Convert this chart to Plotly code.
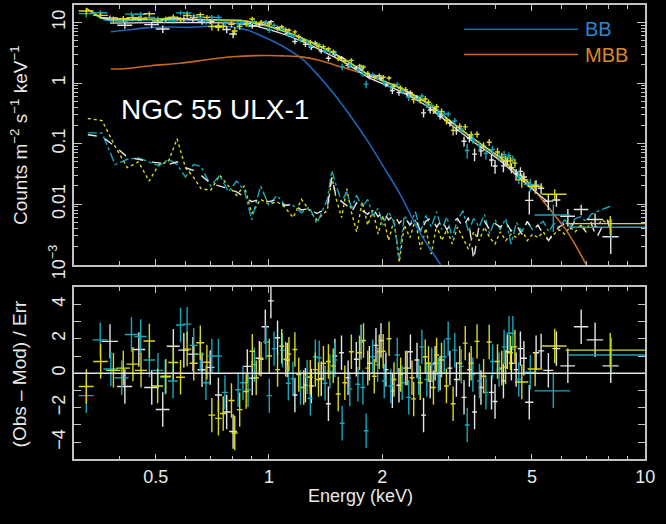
import numpy as np
import plotly.graph_objects as go

# ---------------------------------------------------------------------------
# Binned spectra: bin centre (keV), half bin width (keV), residual (Obs-Mod)/Err
# ---------------------------------------------------------------------------
PN_E = [0.378, 0.414, 0.451, 0.488, 0.522, 0.557, 0.594, 0.628, 0.664, 0.698, 0.734,
        0.772, 0.803, 0.876, 0.903, 0.943, 0.978,
        1.012, 1.054, 1.119, 1.172, 1.25, 1.296, 1.377, 1.439, 1.497, 1.559, 1.623, 1.707,
        1.759, 1.849, 1.925, 1.985, 2.046, 2.128, 2.216, 2.329, 2.377, 2.475, 2.576, 2.683, 2.765, 2.85,
        3.027, 3.15, 3.30, 3.41, 3.52, 3.66, 3.905, 3.99, 4.2,
        4.30, 4.41, 4.54, 4.66, 4.76, 4.92, 5.13, 5.29, 5.53, 5.81, 6.23, 6.76, 7.36, 8.10]
PN_DE = [0.019, 0.019, 0.018, 0.022, 0.022, 0.022, 0.02, 0.02, 0.018, 0.018, 0.016,
         0.019, 0.019, 0.021, 0.021, 0.022, 0.022,
         0.018, 0.017, 0.018, 0.018, 0.019, 0.02, 0.021, 0.022, 0.022, 0.023, 0.024, 0.026,
         0.026, 0.028, 0.029, 0.03, 0.031, 0.032, 0.033, 0.035, 0.036, 0.037, 0.039, 0.04, 0.041, 0.043,
         0.045, 0.047, 0.05, 0.051, 0.053, 0.055, 0.059, 0.06, 0.063,
         0.065, 0.066, 0.07, 0.08, 0.09, 0.125, 0.10, 0.10, 0.17, 0.14, 0.28, 0.3, 0.37, 0.4]
PN_RES = [1.85, -0.77, 1.38, -0.83, -2.1, 1.57, 1.34, 1.11, 0.2, 0.34, -1.26,
          -2.25, -3.38, 0.4, -0.28, 0.87, 2.7,
          4.2, 2.06, 0.77, -1.26, -0.7, -0.74, -0.32, -1.77, 1.0, 1.19, -0.26, 0.81,
          1.81, 0.58, 1.62, 1.9, 0.21, -1.02, -0.7, 0.3, 1.25, 0.77, -2.43, -0.45, 0.58, 0.02,
          0.3, -0.36, -1.4, 0.21, -2.25, -0.83, -1.11, -1.64, -0.45,
          1.25, 0.58, 0.21, 1.43, 0.87, -1.68, 1.19, 1.3, 0.17, 1.43, 0.43, 2.7, 1.94, 0.43]

MOS1_E = [0.327, 0.357, 0.386, 0.410, 0.435, 0.457, 0.481, 0.506, 0.532, 0.557, 0.582, 0.606,
          0.631, 0.657, 0.684, 0.705, 0.734,
          0.756, 0.795, 0.811, 0.836, 0.870, 0.903, 0.925, 0.953,
          1.002, 1.054, 1.081, 1.108, 1.130, 1.172, 1.20, 1.237, 1.288, 1.328, 1.354, 1.396,
          1.439, 1.482, 1.528, 1.591, 1.656, 1.741,
          1.784, 1.831, 1.905, 1.965, 2.012, 2.086, 2.15, 2.239, 2.307, 2.40, 2.425, 2.524,
          2.603, 2.655, 2.737, 2.79, 2.875, 2.963,
          3.087, 3.214, 3.325, 3.447, 3.574, 3.72, 3.85, 4.05, 4.157,
          4.256, 4.386, 4.506, 4.70, 5.10, 5.75, 8.075]
MOS1_DE = [0.015, 0.016, 0.017, 0.017, 0.017, 0.017, 0.017, 0.017, 0.017, 0.017, 0.016, 0.016,
           0.016, 0.016, 0.015, 0.015, 0.015,
           0.015, 0.015, 0.015, 0.015, 0.015, 0.015, 0.015, 0.015,
           0.016, 0.016, 0.016, 0.016, 0.017, 0.017, 0.018, 0.018, 0.019, 0.02, 0.02, 0.021,
           0.021, 0.022, 0.023, 0.024, 0.025, 0.026,
           0.026, 0.027, 0.028, 0.029, 0.03, 0.031, 0.032, 0.033, 0.034, 0.036, 0.036, 0.038,
           0.039, 0.04, 0.041, 0.042, 0.043, 0.044,
           0.046, 0.048, 0.05, 0.052, 0.054, 0.056, 0.058, 0.061, 0.062,
           0.064, 0.066, 0.068, 0.19, 0.23, 0.43, 1.925]
MOS1_RES = [-0.77, 0.68, 0.17, 0.3, 0.53, 0.17, 1.87, -0.74, -0.17, 0.62, -0.23, 1.4,
            0.58, 1.77, 0.64, -2.43, -2.62,
            -2.34, -1.58, -3.47, -2.11, -1.06, 1.28, -0.26, 0.81,
            1.0, 0.21, 1.57, 0.81, 1.11, 1.38, -0.08, -0.83, -0.23, 0.21, -0.36, 0.58,
            0.68, 0.43, -1.2, -0.55, 1.25, 1.19,
            1.9, 0.3, -0.17, 1.25, 1.28, 2.0, -0.36, -0.08, 0.3, -0.26, -1.49, -0.55,
            0.96, 0.58, -0.83, 1.06, 0.77, -0.74,
            -1.77, 0.58, 1.75, 0.58, 1.85, -0.17, 1.81, 0.68, 0.3,
            0.36, 1.19, 1.53, -0.51, 0.25, 1.58, 1.34]

MOS2_E = [0.327, 0.356, 0.380, 0.406, 0.431, 0.456, 0.481, 0.507, 0.530, 0.556, 0.582, 0.606,
          0.631, 0.657, 0.680, 0.705, 0.734,
          0.764, 0.828, 0.853, 0.880, 0.915, 0.982,
          1.002, 1.032, 1.086, 1.126, 1.158, 1.213, 1.263, 1.288, 1.328, 1.36, 1.41, 1.452,
          1.497, 1.565, 1.64, 1.724, 1.759,
          1.777, 1.813, 1.887, 1.945, 2.025, 2.108, 2.193, 2.26, 2.353, 2.5, 2.55, 2.628,
          2.708, 2.82, 2.924, 2.995,
          3.119, 3.245, 3.365, 3.483, 3.626, 3.773, 3.929, 4.09, 4.217,
          4.345, 4.45, 4.614, 4.95, 5.70, 8.135]
MOS2_DE = [0.015, 0.016, 0.017, 0.017, 0.017, 0.017, 0.017, 0.017, 0.017, 0.017, 0.016, 0.016,
           0.016, 0.016, 0.015, 0.015, 0.015,
           0.015, 0.015, 0.015, 0.015, 0.015, 0.016,
           0.016, 0.016, 0.016, 0.017, 0.017, 0.018, 0.019, 0.019, 0.02, 0.02, 0.021, 0.022,
           0.022, 0.023, 0.025, 0.026, 0.026,
           0.027, 0.027, 0.028, 0.029, 0.03, 0.032, 0.033, 0.034, 0.035, 0.037, 0.038, 0.039,
           0.04, 0.042, 0.044, 0.045,
           0.047, 0.049, 0.05, 0.052, 0.054, 0.057, 0.059, 0.061, 0.063,
           0.065, 0.067, 0.07, 0.19, 0.62, 1.865]
MOS2_RES = [-1.3, 1.94, 0.25, -0.26, 2.25, 2.13, 0.77, 0.17, -0.23, -0.45, 2.8, 2.85,
            1.62, 1.1, -0.55, 1.0, 1.0,
            -1.11, -0.96, -0.55, -0.96, 0.49, 1.81,
            -1.3, 1.43, 1.34, -0.58, -0.32, -0.83, -0.21, -1.45, 0.96, 0.9, -0.58, 0.11,
            0.77, -2.9, -0.92, -0.64, 1.81,
            -0.83, -3.34, 0.96, 0.49, -0.45, -0.74, 1.06, -0.55, -1.4, -0.26, 1.53, -0.36,
            0.49, -0.08, 0.96, 2.0,
            1.34, 0.4, -3.0, -0.08, -0.45, -1.11, 0.68, 0.21, 1.53,
            2.32, 2.32, -0.36, 0.06, -1.02, 1.06]

# relative cross-normalisation of each camera
NORM_PN, NORM_MOS1, NORM_MOS2 = 0.88, 1.0, 0.97

# folded total model (counts m^-2 s^-1 keV^-1)
MODEL_E = [0.30, 0.33, 0.35, 0.38, 0.42, 0.48, 0.55, 0.62, 0.70, 0.78, 0.85, 0.92, 1.0,
           1.1, 1.225, 1.35, 1.5, 1.65, 1.83, 2.0, 2.24, 2.5, 2.73, 3.0, 3.34, 3.7, 4.09,
           4.5, 5.0, 5.5, 6.1, 6.8, 7.5, 8.5, 10.0]
MODEL_TOT = [17.5, 17.0, 12.5, 11.0, 11.2, 11.5, 11.5, 11.3, 11.4, 11.2, 10.8, 10.0, 8.7,
             7.2, 5.6, 4.2, 3.05, 2.15, 1.40, 1.12, 0.83, 0.58, 0.40, 0.25, 0.147, 0.095, 0.062,
             0.036, 0.0204, 0.0125, 0.0068, 0.0042, 0.0030, 0.0024, 0.0020]
MODEL_LINE_EMAX = 5.6   # folded model is overplotted up to this energy

# fractional 1-sigma uncertainty of the binned counts
REL_E = [0.3, 0.5, 0.8, 1.0, 1.5, 2.0, 3.0, 4.0, 5.0, 6.0, 7.0, 8.0, 10.0]
REL_ERR = [0.12, 0.11, 0.10, 0.09, 0.09, 0.10, 0.13, 0.18, 0.25, 0.35, 0.45, 0.6, 0.8]

# model components
BB_E = [0.38, 0.42, 0.48, 0.55, 0.62, 0.68, 0.75, 0.80, 0.88, 0.98, 1.1, 1.225, 1.35, 1.5,
        1.65, 1.83, 2.0, 2.24, 2.5, 2.86]
BB_VAL = [7.0, 7.5, 8.2, 8.4, 8.3, 8.6, 8.8, 8.4, 7.4, 5.6, 3.9, 2.5, 1.35, 0.62,
          0.28, 0.11, 0.045, 0.014, 0.0037, 0.001]
MBB_E = [0.38, 0.42, 0.486, 0.58, 0.684, 0.80, 0.98, 1.1, 1.22, 1.35, 1.5, 1.65, 1.83, 2.0,
         2.24, 2.5, 2.73, 3.0, 3.34, 3.7, 4.09, 4.5, 5.0, 5.5, 6.1, 6.5, 6.97]
MBB_VAL = [1.70, 1.74, 1.93, 2.12, 2.42, 2.72, 2.85, 2.8, 2.7, 2.4, 1.97, 1.65, 1.36, 1.08,
           0.83, 0.56, 0.40, 0.245, 0.147, 0.092, 0.058, 0.035, 0.019, 0.0092, 0.0041, 0.0022, 0.001]

# background spectra
BKG_E = [0.33, 0.36, 0.39, 0.42, 0.45, 0.48, 0.51, 0.54, 0.57, 0.60,
         0.63, 0.66, 0.70, 0.74, 0.78, 0.82, 0.86, 0.90, 0.95, 1.00,
         1.05, 1.10, 1.16, 1.22, 1.28, 1.34, 1.40,
         1.43, 1.47, 1.51, 1.56, 1.61, 1.66, 1.71, 1.77, 1.83, 1.89,
         1.95, 2.01, 2.08, 2.15, 2.22, 2.29, 2.37, 2.45, 2.53, 2.61,
         2.70, 2.79, 2.88, 2.97, 3.07, 3.17, 3.28, 3.39, 3.50, 3.62,
         3.74, 3.86, 3.99, 4.12, 4.26, 4.40, 4.55, 4.70, 4.86, 5.02,
         5.19, 5.36, 5.54, 5.72, 5.91, 6.11, 6.31, 6.52, 6.74, 6.96,
         7.19, 7.43, 7.68, 7.93, 8.1]
BKG_PN = [0.14, 0.13, 0.09, 0.06, 0.055, 0.05, 0.048, 0.045, 0.05, 0.04,
          0.036, 0.03, 0.022, 0.02, 0.018, 0.016, 0.013, 0.011, 0.012, 0.011,
          0.012, 0.0095, 0.01, 0.008, 0.0085, 0.007, 0.008,
          0.009, 0.028, 0.013, 0.011, 0.0095, 0.0075, 0.0105, 0.0078, 0.0068, 0.0085,
          0.0062, 0.0075, 0.0055, 0.0068, 0.0048, 0.0062, 0.0045, 0.0058, 0.0035, 0.0052,
          0.006, 0.0042, 0.0055, 0.0038, 0.005, 0.0058, 0.0042, 0.006, 0.0012, 0.0045,
          0.0052, 0.0038, 0.0048, 0.0042, 0.0052, 0.0036, 0.0045, 0.0032, 0.0052, 0.0038,
          0.0045, 0.0032, 0.0025, 0.0035, 0.0042, 0.0048, 0.0038, 0.0055, 0.0045, 0.0035,
          0.0048, 0.0028, 0.0042, 0.0055, 0.0035]
BKG_MOS1 = [0.26, 0.24, 0.09, 0.04, 0.05, 0.024, 0.045, 0.05, 0.12, 0.04,
            0.028, 0.018, 0.017, 0.03, 0.02, 0.014, 0.02, 0.007, 0.012, 0.010,
            0.011, 0.009, 0.006, 0.012, 0.008, 0.0055, 0.007,
            0.008, 0.028, 0.012, 0.006, 0.018, 0.007, 0.0035, 0.011, 0.0045, 0.008,
            0.0032, 0.0065, 0.0025, 0.0055, 0.0011, 0.0045, 0.0028, 0.0055, 0.0018, 0.004,
            0.0015, 0.0045, 0.0025, 0.0038, 0.0022, 0.0042, 0.0028, 0.0018, 0.0035, 0.0025,
            0.0042, 0.0028, 0.0022, 0.0035, 0.0025, 0.0032, 0.0028, 0.0038, 0.0025, 0.0032,
            0.0028, 0.0035, 0.0025, 0.0032, 0.0038, 0.0032, 0.0042, 0.0035, 0.0045, 0.0038,
            0.005, 0.0042, 0.0055, 0.0048, 0.0058]
BKG_MOS2 = [0.15, 0.15, 0.045, 0.055, 0.058, 0.05, 0.043, 0.055, 0.045, 0.028,
            0.045, 0.042, 0.02, 0.03, 0.016, 0.024, 0.017, 0.0055, 0.02, 0.0095,
            0.014, 0.0098, 0.0095, 0.0072, 0.009, 0.0048, 0.009,
            0.012, 0.036, 0.02, 0.011, 0.016, 0.0085, 0.014, 0.009, 0.012, 0.0065,
            0.0085, 0.0045, 0.0075, 0.005, 0.0013, 0.0065, 0.0045, 0.0075, 0.0035, 0.0065,
            0.0042, 0.0075, 0.0038, 0.0062, 0.0028, 0.0055, 0.0078, 0.0035, 0.0058, 0.0042,
            0.0068, 0.0032, 0.0055, 0.0038, 0.0058, 0.0022, 0.005, 0.0035, 0.0052, 0.0038,
            0.0045, 0.0052, 0.0035, 0.0048, 0.0042, 0.0055, 0.0045, 0.0058, 0.0062, 0.0052,
            0.0068, 0.0075, 0.0082, 0.0088, 0.0092]

X_TICKS = [0.5, 1, 2, 5, 10]
X_LABELS = ["0.5", "1", "2", "5", "10"]
X_MINOR = [0.4, 0.6, 0.7, 0.8, 0.9, 3, 4, 6, 7, 8, 9]
Y_TICKS = [0.001, 0.01, 0.1, 1, 10]
Y_LABELS = ["10<sup>\u22123</sup>", "0.01", "0.1", "1", "10"]
R_TICKS = [-4, -2, 0, 2, 4]
R_LABELS = ["\u22124", "\u22122", "0", "2", "4"]
R_MINOR = [-3, -1, 1, 3]

# ---------------------------------------------------------------------------
WHITE = "#e4e4e4"
YELLOW = "#d8d81c"
CYAN = "#17a7b8"
BLUE = "#1c64b8"
ORANGE = "#c2691c"
AXIS = "#c2c2c2"
TEXT = "#e8e8e8"
FAMILY = "Liberation Sans, Arial, Helvetica, sans-serif"


def folded(energies, norm):
    le = np.log10(np.asarray(energies, float))
    m = 10 ** np.interp(le, np.log10(MODEL_E), np.log10(MODEL_TOT))
    return norm * m


def counts(energies, res, norm):
    e = np.asarray(energies, float)
    model = folded(e, norm)
    err = model * np.interp(e, REL_E, REL_ERR)
    return model + np.asarray(res) * err, err


fig = go.Figure()

# backgrounds
for vals, col, dash in [(BKG_MOS1, YELLOW, "dot"), (BKG_MOS2, CYAN, "dashdot"),
                        (BKG_PN, WHITE, "dash")]:
    fig.add_trace(go.Scatter(x=BKG_E, y=vals, mode="lines", xaxis="x2", yaxis="y2",
                             line=dict(color=col, width=1.4, dash=dash), hoverinfo="skip"))

# model components
fig.add_trace(go.Scatter(x=BB_E, y=BB_VAL, mode="lines", xaxis="x2", yaxis="y2",
                         line=dict(color=BLUE, width=1.6, shape="spline"), hoverinfo="skip"))
fig.add_trace(go.Scatter(x=MBB_E, y=MBB_VAL, mode="lines", xaxis="x2", yaxis="y2",
                         line=dict(color=ORANGE, width=1.6, shape="spline"), hoverinfo="skip"))

cams = [(PN_E, PN_DE, PN_RES, NORM_PN, WHITE),
        (MOS2_E, MOS2_DE, MOS2_RES, NORM_MOS2, CYAN),
        (MOS1_E, MOS1_DE, MOS1_RES, NORM_MOS1, YELLOW)]

# folded total model for each camera
for e, de, res, norm, col in cams:
    e_in = [v for v in e if v <= MODEL_LINE_EMAX]
    fig.add_trace(go.Scatter(x=e_in, y=folded(e_in, norm), mode="lines", xaxis="x2", yaxis="y2",
                             line=dict(color=col, width=1.3), hoverinfo="skip"))

# data points with errors, and residuals
for e, de, res, norm, col in cams:
    y, err = counts(e, res, norm)
    fig.add_trace(go.Scatter(
        x=e, y=y, mode="markers", xaxis="x2", yaxis="y2",
        marker=dict(size=1, color=col),
        error_x=dict(type="data", array=de, color=col, thickness=1.4, width=0),
        error_y=dict(type="data", array=err, color=col, thickness=1.4, width=0)))
    fig.add_trace(go.Scatter(
        x=e, y=res, mode="markers", xaxis="x", yaxis="y",
        marker=dict(size=1, color=col),
        error_x=dict(type="data", array=de, color=col, thickness=1.4, width=0),
        error_y=dict(type="constant", value=1, color=col, thickness=1.4, width=0)))

tickfont = dict(family=FAMILY, size=18, color=TEXT)
minor_common = dict(ticks="inside", ticklen=4, tickwidth=1.2, tickcolor=AXIS, showgrid=False)
x_common = dict(type="log", range=[np.log10(0.303), 1.0], showline=True, linecolor=AXIS,
                linewidth=1.6, mirror="ticks", ticks="inside", ticklen=6, tickwidth=1.2,
                tickcolor=AXIS, showgrid=False, zeroline=False, tickvals=X_TICKS,
                ticktext=X_LABELS, tickfont=tickfont,
                minor=dict(tickvals=X_MINOR, **minor_common))
XDOM = [75 / 666, 655 / 666]

fig.update_layout(
    width=666, height=524, autosize=False,
    margin=dict(l=0, r=0, t=0, b=0),
    paper_bgcolor="black", plot_bgcolor="black",
    showlegend=False,
    xaxis=dict(**x_common, domain=XDOM, anchor="y"),
    xaxis2=dict(**x_common, domain=XDOM, anchor="y2", matches="x", showticklabels=False),
    yaxis=dict(range=[-5, 5], domain=[1 - 472 / 524, 1 - 295 / 524], anchor="x",
               showline=True, linecolor=AXIS, linewidth=1.6, mirror="ticks",
               ticks="inside", ticklen=7, tickwidth=1.2, tickcolor=AXIS,
               tickvals=R_TICKS, ticktext=R_LABELS, tickangle=-90, tickfont=tickfont,
               showgrid=False, zeroline=False,
               minor=dict(tickvals=R_MINOR, ticks="inside", ticklen=7, tickwidth=1.2,
                          tickcolor=AXIS, showgrid=False)),
    yaxis2=dict(type="log", range=[-3, np.log10(19.5)], domain=[1 - 272 / 524, 1 - 5 / 524],
                anchor="x2", showline=True, linecolor=AXIS, linewidth=1.6, mirror="ticks",
                ticks="inside", ticklen=8, tickwidth=1.2, tickcolor=AXIS,
                tickvals=Y_TICKS, ticktext=Y_LABELS, tickangle=-90, tickfont=tickfont,
                showgrid=False, zeroline=False,
                minor=dict(tickvals=[m * 10.0 ** k for k in range(-3, 2) for m in range(2, 10)],
                           **minor_common)),
)

# zero line of the residual panel
fig.add_shape(type="line", xref="x domain", yref="y", x0=0, x1=1, y0=0, y1=0,
              line=dict(color=WHITE, width=1.5))

# component key
for yk, col, lab, tcol in [(1 - 30 / 524, BLUE, "BB", "#2a86d6"),
                           (1 - 56 / 524, ORANGE, "MBB", "#d98a26")]:
    fig.add_shape(type="line", xref="paper", yref="paper", x0=471 / 666, x1=587 / 666,
                  y0=yk, y1=yk, line=dict(color=col, width=1.6))
    fig.add_annotation(x=592 / 666, y=yk, xref="paper", yref="paper", text=lab,
                       showarrow=False, xanchor="left", yanchor="middle",
                       font=dict(family=FAMILY, size=20, color=tcol))

fig.add_annotation(x=121 / 666, y=1 - 112 / 524, xref="paper", yref="paper",
                   text="NGC 55 ULX-1", showarrow=False, xanchor="left", yanchor="middle",
                   font=dict(family=FAMILY, size=28, color="white"))

fig.add_annotation(x=20 / 666, y=1 - 139 / 524, xref="paper", yref="paper",
                   text="Counts m<sup>\u22122</sup> s<sup>\u22121</sup> keV<sup>\u22121</sup>",
                   textangle=-90, showarrow=False, xanchor="center", yanchor="middle",
                   font=dict(family=FAMILY, size=19, color=TEXT))
fig.add_annotation(x=20 / 666, y=1 - 384 / 524, xref="paper", yref="paper",
                   text="(Obs \u2013 Mod) / Err", textangle=-90, showarrow=False,
                   xanchor="center", yanchor="middle",
                   font=dict(family=FAMILY, size=19, color=TEXT))
fig.add_annotation(x=366 / 666, y=1 - 509.5 / 524, xref="paper", yref="paper",
                   text="Energy (keV)", showarrow=False, xanchor="center", yanchor="middle",
                   font=dict(family=FAMILY, size=18, color=TEXT))

fig.write_html("out.html")
